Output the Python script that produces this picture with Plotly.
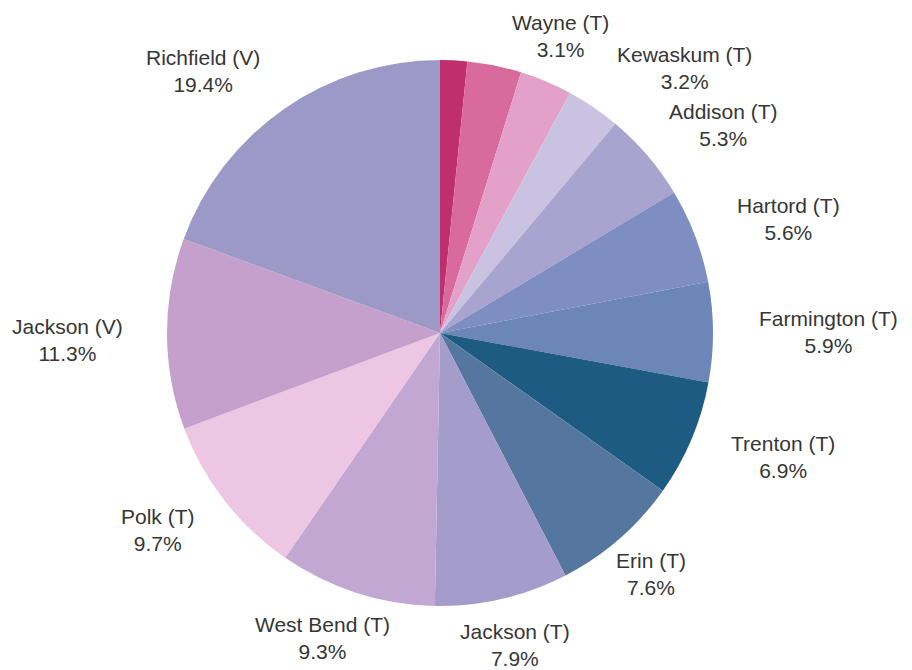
import math
import plotly.graph_objects as go

# Share of total by municipality, clockwise from 12 o'clock
names = ["Other 1", "Other 2", "Wayne (T)", "Kewaskum (T)", "Addison (T)",
         "Hartord (T)", "Farmington (T)", "Trenton (T)", "Erin (T)",
         "Jackson (T)", "West Bend (T)", "Polk (T)", "Jackson (V)",
         "Richfield (V)"]
shares = [1.6, 3.2, 3.1, 3.2, 5.3, 5.6, 5.9, 6.9, 7.6, 7.9, 9.3, 9.7, 11.3, 19.4]
labelled = [False, False] + [True] * 12

colors = ["#BF2F6B", "#D86A9E", "#E3A0C8", "#C9C3E1", "#A9A3D0", "#7E8EC2",
          "#6C86B8", "#1E5B82", "#55779F", "#A49CCB", "#C3A7D3", "#EDC6E4",
          "#C6A0CD", "#9D99C6"]

# Label nudges (px) to keep neighbouring labels apart
nudges = {"Wayne (T)": (-20, -2), "Kewaskum (T)": (32, 0), "Erin (T)": (-24, 0),
          "Jackson (T)": (-10, 0), "Richfield (V)": (-18, 0), "Jackson (V)": (0, 6)}

W, H = 912, 670
CX, CY, R = 440, 333, 273
FONT = 21

fig = go.Figure(go.Pie(
    labels=names,
    values=shares,
    sort=False,
    direction="clockwise",
    rotation=0,
    textinfo="none",
    marker=dict(colors=colors, line=dict(width=0)),
    showlegend=False,
    domain=dict(x=[(CX - R) / W, (CX + R) / W],
                y=[(H - CY - R) / H, (H - CY + R) / H]),
))

total = sum(shares)
cum = 0.0
annotations = []
for name, val, show in zip(names, shares, labelled):
    mid = (cum + val / 2) / total * 2 * math.pi
    cum += val
    if not show:
        continue
    s, c = math.sin(mid), math.cos(mid)
    half_w = len(name) * 10.3 / 2
    px = CX + s * (316 + half_w)
    py = CY - c * (296 + 24)
    dx, dy = nudges.get(name, (0, 0))
    px += dx
    py += dy
    pct = val / total * 100
    annotations.append(dict(
        x=px / W, y=1 - py / H, xref="paper", yref="paper",
        text=f"{name}<br>{pct:.1f}%", showarrow=False,
        xanchor="center", yanchor="middle", align="center",
        font=dict(family="Liberation Sans, Arial, sans-serif", size=FONT,
                  color="#363636"),
    ))

fig.update_layout(
    width=W, height=H,
    margin=dict(l=0, r=0, t=0, b=0),
    paper_bgcolor="white", plot_bgcolor="white",
    annotations=annotations,
)

fig.write_html("out.html")
